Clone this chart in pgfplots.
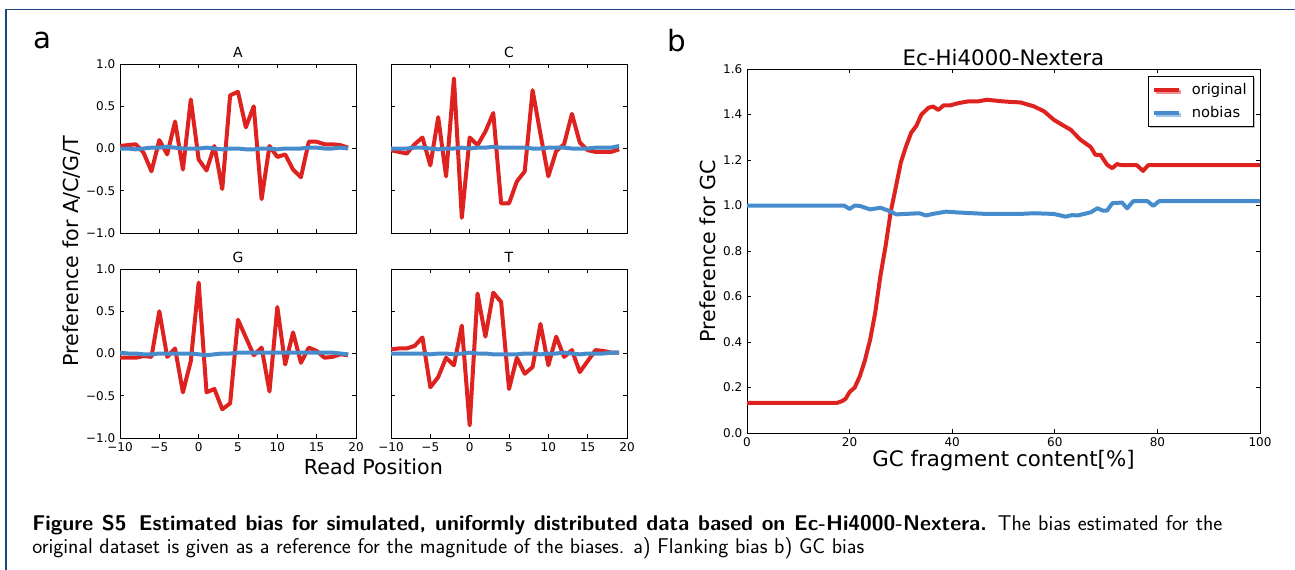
\documentclass[border=0pt]{standalone}
\usepackage{pgfplots}
\pgfplotsset{compat=1.18}
\usepackage{fontspec}
\newfontfamily\dejavu{DejaVu Sans}
\usetikzlibrary{shadows}
\definecolor{myred}{RGB}{222,34,32}
\definecolor{myblue}{RGB}{70,140,204}
\definecolor{framecol}{RGB}{30,70,125}
\pgfplotsset{
  base/.style={scale only axis, anchor=south west, tick align=inside, major tick length=3pt,
    axis line style={line width=0.75pt}, every tick/.style={black, line width=0.6pt},
    tick label style={font=\dejavu\fontsize{9}{10}\selectfont},
    title style={font=\dejavu\fontsize{10.5}{12}\selectfont, yshift=-5pt}},
  small/.style={base, width=177pt, height=126.75pt, xmin=-10, xmax=20, ymin=-1, ymax=1,
    xtick={-10,-5,0,5,10,15,20}, ytick={-1,-0.5,0,0.5,1}},
  redl/.style={myred, line width=3pt, no marks, line join=round},
  bluel/.style={myblue, line width=3pt, no marks, line join=round},
}
\begin{document}
\begin{tikzpicture}
\path[use as bounding box] (0,0) rectangle (971.25pt,426.75pt);
\draw[framecol, line width=0.8pt] (4.5pt,-2pt) -- (4.5pt,419.8pt) -- (975pt,419.8pt);
% A
\begin{axis}[small, at={(90pt,252pt)}, title={A}, xticklabels={}, yticklabels={−1.0,−0.5,0.0,0.5,1.0}]
\addplot[redl] coordinates {(-10,0.03)(-9,0.04)(-8,0.05)(-7,-0.05)(-6,-0.27)(-5,0.1)(-4,-0.07)(-3,0.32)(-2,-0.25)(-1,0.58)(0,-0.13)(1,-0.26)(2,0.03)(3,-0.48)(4,0.63)(5,0.67)(6,0.25)(7,0.5)(8,-0.6)(9,0.03)(10,-0.1)(11,-0.07)(12,-0.25)(13,-0.34)(14,0.08)(15,0.08)(16,0.05)(17,0.05)(18,0.04)(19,0.01)};
\addplot[bluel] coordinates {(-10,0)(-9,0)(-8,-0.01)(-7,0)(-6,0.01)(-5,0.01)(-4,0.02)(-3,0.01)(-2,0)(-1,0)(0,0)(1,0.01)(2,0)(3,-0.01)(4,0)(5,0)(6,-0.01)(7,-0.01)(8,0)(9,0)(10,-0.01)(11,0)(12,0)(13,0)(14,0.01)(15,0.01)(16,0)(17,0)(18,0.01)(19,0)};
\end{axis}
% C
\begin{axis}[small, at={(293.25pt,252pt)}, title={C}, xticklabels={}, yticklabels={}]
\addplot[redl] coordinates {(-10,-0.02)(-9,-0.04)(-8,-0.06)(-7,0.05)(-6,0.13)(-5,-0.2)(-4,0.37)(-3,-0.33)(-2,0.83)(-1,-0.82)(0,0.13)(1,0.04)(2,0.2)(3,0.42)(4,-0.65)(5,-0.65)(6,-0.39)(7,-0.27)(8,0.69)(9,0.17)(10,-0.33)(11,-0.03)(12,0.05)(13,0.41)(14,0.07)(15,-0.02)(16,-0.04)(17,-0.04)(18,-0.04)(19,-0.01)};
\addplot[bluel] coordinates {(-10,0)(-9,0)(-8,0)(-7,0.01)(-6,0.01)(-5,0)(-4,-0.01)(-3,0)(-2,0)(-1,0.01)(0,0)(1,0.01)(2,0.01)(3,0.02)(4,0.01)(5,0.01)(6,0.01)(7,0.01)(8,0)(9,0)(10,0.01)(11,0.01)(12,0.01)(13,0)(14,0)(15,0)(16,0.01)(17,0.01)(18,0.01)(19,0.03)};
\end{axis}
% G
\begin{axis}[small, at={(90pt,98.25pt)}, title={G}, xticklabels={−10,−5,0,5,10,15,20}, yticklabels={−1.0,−0.5,0.0,0.5,1.0}]
\addplot[redl] coordinates {(-10,-0.05)(-9,-0.05)(-8,-0.05)(-7,-0.03)(-6,-0.04)(-5,0.5)(-4,-0.04)(-3,0.06)(-2,-0.46)(-1,-0.09)(0,0.84)(1,-0.46)(2,-0.42)(3,-0.66)(4,-0.59)(5,0.4)(6,0.19)(7,-0.02)(8,0.07)(9,-0.45)(10,0.55)(11,-0.13)(12,0.25)(13,-0.11)(14,0.07)(15,0.03)(16,-0.05)(17,-0.04)(18,-0.01)(19,-0.02)};
\addplot[bluel] coordinates {(-10,0.01)(-9,0)(-8,0)(-7,-0.01)(-6,-0.01)(-5,0)(-4,0)(-3,0)(-2,0)(-1,0)(0,-0.01)(1,-0.02)(2,-0.01)(3,0)(4,0)(5,0.01)(6,0.01)(7,0.01)(8,0.01)(9,0.01)(10,0.01)(11,0.01)(12,0.01)(13,0.01)(14,0.01)(15,0.01)(16,0.01)(17,0.01)(18,0)(19,-0.01)};
\end{axis}
% T
\begin{axis}[small, at={(293.25pt,98.25pt)}, title={T}, xticklabels={−10,−5,0,5,10,15,20}, yticklabels={}]
\addplot[redl] coordinates {(-10,0.05)(-9,0.06)(-8,0.06)(-7,0.09)(-6,0.19)(-5,-0.4)(-4,-0.28)(-3,-0.05)(-2,-0.14)(-1,0.33)(0,-0.85)(1,0.71)(2,0.2)(3,0.72)(4,0.61)(5,-0.42)(6,-0.05)(7,-0.24)(8,-0.16)(9,0.35)(10,-0.14)(11,0.2)(12,-0.04)(13,0.04)(14,-0.22)(15,-0.09)(16,0.04)(17,0.03)(18,0.01)(19,0.01)};
\addplot[bluel] coordinates {(-10,0)(-9,0)(-8,0)(-7,0)(-6,0)(-5,-0.01)(-4,0)(-3,0)(-2,-0.01)(-1,0)(0,0.01)(1,0)(2,0)(3,-0.01)(4,-0.01)(5,-0.01)(6,-0.01)(7,0)(8,0)(9,-0.01)(10,0)(11,0)(12,0.01)(13,0)(14,-0.01)(15,0)(16,0)(17,0)(18,0.01)(19,0.01)};
\end{axis}
% b
\begin{axis}[base, at={(560.25pt,102pt)}, width=384.75pt, height=273pt,
  xmin=0, xmax=100, ymin=0, ymax=1.6, xtick={0,20,40,60,80,100},
  xticklabels={0,20,40,60,80,100},
  ytick={0,0.2,0.4,0.6,0.8,1.0,1.2,1.4,1.6},
  yticklabels={0.0,0.2,0.4,0.6,0.8,1.0,1.2,1.4,1.6},
  title={Ec-Hi4000-Nextera}, title style={font=\dejavu\fontsize{16}{18}\selectfont, yshift=-2.5pt},
  xlabel={GC fragment content[\%]}, xlabel style={font=\dejavu\fontsize{16}{18}\selectfont, yshift=4pt},
  ylabel={Preference for GC}, ylabel style={font=\dejavu\fontsize{15.5}{17}\selectfont, yshift=-1pt},
  legend style={at={(0.988,0.981)}, anchor=north east, font=\dejavu\fontsize{11}{13}\selectfont,
    draw=black, line width=0.75pt, inner xsep=3pt, inner ysep=3pt, row sep=3.5pt,
    drop shadow={shadow xshift=1.5pt, shadow yshift=-1.5pt, fill=gray, opacity=0.5}},
  legend cell align=left,
  legend image code/.code={\draw[#1, line width=3pt] (0pt,0pt) -- (18.75pt,0pt);}]
\addplot[redl] coordinates {(0,0.132)(17.5,0.132)(18.5,0.14)(19.2,0.15)(20,0.18)(21,0.2)(22,0.25)(23,0.32)(24,0.41)(25,0.53)(26,0.69)(27,0.82)(28,0.97)(29,1.08)(30,1.19)(31,1.26)(32,1.32)(33,1.35)(34,1.40)(35.4,1.43)(36.3,1.435)(37.3,1.42)(38.3,1.44)(39.6,1.44)(41.2,1.45)(43.2,1.458)(45.1,1.458)(46.8,1.465)(49.7,1.458)(51.6,1.455)(53.3,1.453)(55.9,1.436)(57.9,1.414)(59.8,1.377)(61.4,1.355)(63.1,1.333)(65,1.289)(67,1.257)(67.9,1.223)(68.9,1.223)(70.2,1.179)(71.2,1.164)(72.1,1.182)(73.1,1.177)(76,1.177)(77.2,1.152)(78.2,1.177)(100,1.177)};
\addlegendentry{\hspace*{6pt}original}
\addplot[bluel] coordinates {(0,1.0)(18.9,1.0)(20,0.985)(21,1.0)(22,0.998)(24,0.983)(26,0.99)(27.5,0.978)(29.1,0.961)(31,0.963)(33.6,0.966)(34.9,0.956)(36.2,0.963)(38.8,0.973)(41.4,0.969)(44,0.966)(46.6,0.963)(51.1,0.963)(53.3,0.963)(55.9,0.966)(59.8,0.963)(62.1,0.951)(63.4,0.958)(64.4,0.956)(67,0.97)(68.3,0.988)(69.3,0.978)(70.2,0.978)(71.2,1.01)(73.1,1.013)(74.1,0.988)(75.3,1.019)(78.1,1.019)(79.2,0.998)(80.3,1.019)(100,1.019)};
\addlegendentry{\hspace*{6pt}nobias}
\end{axis}
% labels
\node[font=\dejavu\fontsize{22}{24}\selectfont] at (31.5pt,396.75pt) {a};
\node[font=\dejavu\fontsize{22}{24}\selectfont] at (507.75pt,396pt) {b};
\node[font=\dejavu\fontsize{15.5}{17}\selectfont, rotate=90] at (54pt,238.5pt) {Preference for A/C/G/T};
\node[font=\dejavu\fontsize{15.5}{17}\selectfont] at (280pt,76.5pt) {Read Position};
% caption
\node[anchor=base west, font=\sffamily\fontsize{16}{18}\selectfont, inner sep=0pt] at (24pt,29.25pt) {\makebox[892.5pt][s]{\textbf{Figure S5\, Estimated bias for simulated, uniformly distributed data based on Ec-Hi4000-Nextera.} The bias estimated for the}};
\node[anchor=base west, font=\sffamily\fontsize{16}{18}\selectfont, inner sep=0pt] at (24pt,12pt) {original dataset is given as a reference for the magnitude of the biases. a) Flanking bias b) GC bias};
\end{tikzpicture}
\end{document}
